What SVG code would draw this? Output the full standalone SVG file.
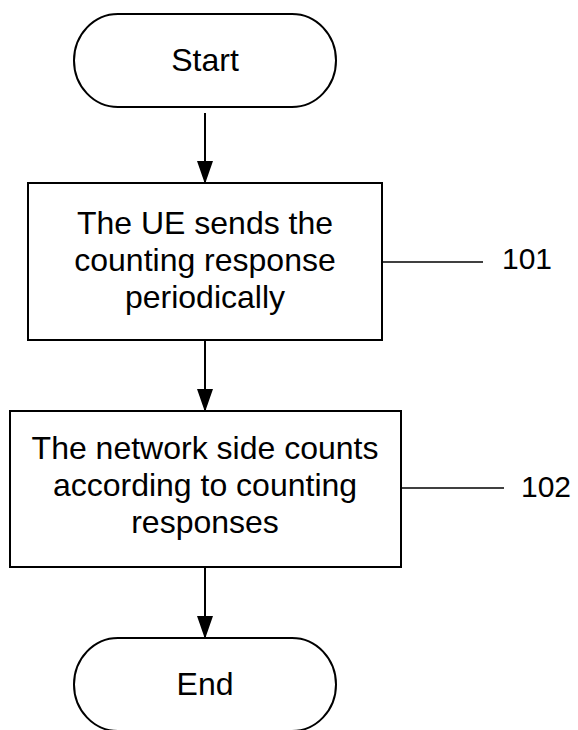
<svg xmlns="http://www.w3.org/2000/svg" width="578" height="730" viewBox="0 0 578 730">
<defs>
<style>
.shape{fill:#fff;stroke:#000;stroke-width:2}
.t{font-family:"Liberation Sans",Arial,sans-serif;font-size:32px;fill:#000;text-anchor:middle}
.lbl{font-family:"Liberation Sans",Arial,sans-serif;font-size:30px;fill:#000}
.conn{stroke:#000;stroke-width:2;fill:none}
.lead{stroke:#000;stroke-width:1.6;fill:none}
</style>
<marker id="ah" markerWidth="23" markerHeight="16" refX="22" refY="8" orient="auto" markerUnits="userSpaceOnUse" viewBox="0 0 23 16">
<path d="M0,0 L23,8 L0,16 Z" fill="#000"/>
</marker>
</defs>
<rect width="578" height="730" fill="#fff"/>
<g id="connectors">
<line class="conn" x1="205" y1="113" x2="205" y2="183" marker-end="url(#ah)"/>
<line class="conn" x1="205" y1="340" x2="205" y2="411" marker-end="url(#ah)"/>
<line class="conn" x1="205" y1="567" x2="205" y2="638" marker-end="url(#ah)"/>
<line class="lead" x1="382" y1="262" x2="483" y2="262"/>
<line class="lead" x1="401" y1="488" x2="504" y2="488"/>
</g>
<g id="start">
<rect class="shape" x="74" y="14" width="262" height="93" rx="44" ry="46.5"/>
<text class="t" x="205" y="71">Start</text>
</g>
<g id="step101">
<rect class="shape" x="28" y="183" width="354" height="157"/>
<text class="t" x="205" y="234">The UE sends the</text>
<text class="t" x="205" y="271">counting response</text>
<text class="t" x="205" y="308">periodically</text>
</g>
<g id="label101">
<text class="lbl" x="502" y="269">101</text>
</g>
<g id="step102">
<rect class="shape" x="10" y="411" width="391" height="156"/>
<text class="t" x="205" y="459">The network side counts</text>
<text class="t" x="205" y="496">according to counting</text>
<text class="t" x="205" y="533">responses</text>
</g>
<g id="label102">
<text class="lbl" x="521" y="497">102</text>
</g>
<g id="end">
<rect class="shape" x="74" y="638" width="262" height="93" rx="44" ry="46.5"/>
<text class="t" x="205" y="695">End</text>
</g>
</svg>
